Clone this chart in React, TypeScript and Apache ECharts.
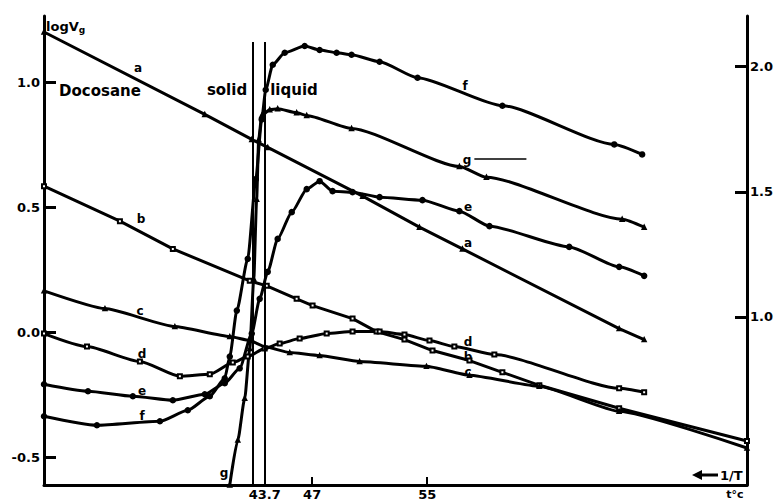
import React, { useEffect, useRef } from "react";
import * as echarts from "echarts";

// x: temperature (°C), y: log Vg
const xTickValues = [43.7, 47, 55];
const xTickLabels = ["43.7", "47", "55"];
const leftTickValues = [-0.5, 0, 0.5, 1.0];
const rightTickValues = [1.0, 1.5, 2.0];
const transitionTemps = [42.85, 43.7];

const curveA = [[28.35, 1.203], [39.53, 0.873], [42.8, 0.773], [43.91, 0.741], [50.51, 0.546], [54.46, 0.422], [57.45, 0.335], [68.35, 0.016], [70.09, -0.028]];
const curveB = [[28.35, 0.586], [33.63, 0.446], [37.31, 0.335], [42.66, 0.207], [43.84, 0.187], [45.92, 0.135], [47.03, 0.108], [49.81, 0.056], [51.48, 0.004], [53.42, -0.028], [55.37, -0.072], [57.94, -0.112], [60.23, -0.159], [62.8, -0.211], [68.35, -0.303], [77.24, -0.434]];
const curveC = [[28.35, 0.167], [32.59, 0.096], [37.45, 0.024], [41.27, -0.016], [42.66, -0.032], [43.7, -0.056], [45.44, -0.08], [47.52, -0.092], [50.3, -0.116], [54.95, -0.135], [57.94, -0.171], [62.8, -0.215], [68.35, -0.315], [77.24, -0.462]];
const curveD = [[28.35, -0.004], [31.34, -0.056], [35.02, -0.116], [37.8, -0.175], [39.88, -0.167], [41.48, -0.12], [42.52, -0.096], [43.7, -0.064], [44.74, -0.044], [46.13, -0.024], [48.01, -0.004], [49.81, 0.004], [51.69, 0.004], [53.42, -0.008], [55.16, -0.032], [56.89, -0.056], [59.67, -0.088], [68.35, -0.223], [70.09, -0.239]];
const curveE = [[28.35, -0.207], [31.41, -0.235], [34.53, -0.255], [37.31, -0.271], [39.53, -0.247], [40.92, -0.203], [41.96, -0.143], [42.8, -0.004], [43.35, 0.135], [43.91, 0.243], [44.6, 0.375], [45.58, 0.482], [46.62, 0.574], [47.52, 0.606], [48.42, 0.566], [49.81, 0.562], [51.69, 0.542], [54.67, 0.53], [57.24, 0.486], [59.33, 0.426], [64.88, 0.343], [68.35, 0.263], [70.09, 0.227]];
const curveF = [[28.35, -0.335], [32.03, -0.371], [36.41, -0.355], [38.35, -0.311], [39.88, -0.255], [40.92, -0.183], [41.27, -0.096], [41.76, 0.088], [42.52, 0.295], [43.08, 0.614], [43.49, 0.853], [43.77, 0.972], [44.26, 1.072], [45.09, 1.12], [46.48, 1.147], [47.52, 1.131], [48.7, 1.12], [49.74, 1.112], [51.69, 1.084], [54.33, 1.02], [60.23, 0.908], [68.01, 0.753], [69.95, 0.713]];
const curveG = [[41.27, -0.61], [41.83, -0.43], [42.31, -0.263], [42.66, -0.064], [42.94, 0.215], [43.14, 0.534], [43.28, 0.773], [43.49, 0.869], [44.05, 0.892], [44.6, 0.896], [45.92, 0.88], [46.62, 0.869], [49.74, 0.817], [57.24, 0.665], [59.12, 0.622], [68.56, 0.454], [70.09, 0.422]];
const gLeader = [[58.28, 0.697], [61.9, 0.697]];

const FONT = "'DejaVu Sans', sans-serif";

export default function App() {
  const ref = useRef<HTMLDivElement>(null);
  useEffect(() => {
    const chart = echarts.init(ref.current!, null, { renderer: "svg" });
    const mk = (name: string, data: number[][], symbol: string, size: number, smooth: number | boolean, extra: any = {}) => ({
      type: "line",
      name,
      data,
      smooth,
      smoothMonotone: "x",
      symbol,
      symbolSize: size,
      showAllSymbol: true,
      lineStyle: { color: "#000", width: 3 },
      itemStyle: { color: "#000", borderColor: "#000", borderWidth: 1.5 },
      z: 3,
      ...extra,
    });
    const txt = (text: string, x: number, y: number, size = 12, align = "center") => ({
      type: "text",
      x,
      y,
      style: {
        text,
        fill: "#000",
        fontFamily: FONT,
        fontWeight: "bold",
        fontSize: size,
        align,
        verticalAlign: "middle",
      },
    });
    const vLines = transitionTemps.map((t) => [
      { coord: [t, -0.61] },
      { coord: [t, 1.163] },
    ]);
    const axisLabelStyle = { color: "#000", fontFamily: FONT, fontWeight: "bold", fontSize: 13 };
    chart.setOption({
      animation: false,
      backgroundColor: "#fff",
      grid: { left: 44, right: 28, top: 16, bottom: 14 },
      xAxis: {
        type: "value",
        min: 28.35,
        max: 77.24,
        axisLine: { onZero: false, lineStyle: { color: "#000", width: 3 } },
        axisTick: { inside: true, length: 8, lineStyle: { color: "#000", width: 2 }, customValues: xTickValues },
        axisLabel: {
          ...axisLabelStyle,
          margin: 3,
          customValues: xTickValues,
          formatter: (v: number) => {
            const i = xTickValues.findIndex((t) => Math.abs(t - v) < 1e-6);
            return i >= 0 ? xTickLabels[i] : "";
          },
        },
        splitLine: { show: false },
      },
      yAxis: [
        {
          type: "value",
          min: -0.61,
          max: 1.267,
          axisLine: { show: true, onZero: false, lineStyle: { color: "#000", width: 3 } },
          axisTick: { show: true, inside: true, length: 12, lineStyle: { color: "#000", width: 3 }, customValues: leftTickValues },
          axisLabel: { ...axisLabelStyle, margin: 4, customValues: leftTickValues, formatter: (v: number) => v.toFixed(1) },
          splitLine: { show: false },
        },
        {
          type: "value",
          position: "right",
          min: 0.327,
          max: 2.203,
          axisLine: { show: true, onZero: false, lineStyle: { color: "#000", width: 3 } },
          axisTick: { show: true, inside: true, length: 12, lineStyle: { color: "#000", width: 3 }, customValues: rightTickValues },
          axisLabel: { ...axisLabelStyle, margin: 3, customValues: rightTickValues, formatter: (v: number) => v.toFixed(1) },
          splitLine: { show: false },
        },
      ],
      series: [
        mk("a", curveA, "triangle", 4, false, {
          markLine: {
            silent: true,
            symbol: "none",
            label: { show: false },
            lineStyle: { color: "#000", width: 2, type: "solid" },
            data: vLines,
          },
        }),
        mk("b", curveB, "emptyRect", 4, false),
        mk("c", curveC, "triangle", 4, 0.15),
        mk("d", curveD, "emptyRect", 4, 0.2),
        mk("e", curveE, "circle", 5, 0.2),
        mk("f", curveF, "circle", 5, 0.2),
        mk("g", curveG, "triangle", 4, 0.2, {
          markLine: {
            silent: true,
            symbol: "none",
            label: { show: false },
            lineStyle: { color: "#000", width: 1.5, type: "solid" },
            data: [[{ coord: gLeader[0] }, { coord: gLeader[1] }]],
          },
        }),
      ],
      graphic: [
        {
          type: "text",
          x: 46,
          y: 26,
          style: {
            text: "{m|logV}{s|g}",
            fill: "#000",
            verticalAlign: "middle",
            rich: {
              m: { fontFamily: FONT, fontWeight: "bold", fontSize: 13, fill: "#000" },
              s: { fontFamily: FONT, fontWeight: "bold", fontSize: 9, fill: "#000", padding: [8, 0, 0, 0] },
            },
          },
        },
        txt("Docosane", 100, 91, 15),
        txt("solid", 227, 90, 15),
        txt("liquid", 294, 90, 15),
        txt("a", 138, 68),
        txt("b", 141, 219),
        txt("c", 140, 311),
        txt("d", 142, 354),
        txt("e", 142, 391),
        txt("f", 142, 416),
        txt("g", 224, 473),
        txt("f", 465, 86),
        txt("g", 467, 160),
        txt("e", 468, 207),
        txt("a", 468, 243),
        txt("d", 468, 342),
        txt("b", 468, 357),
        txt("c", 468, 372),
        txt("t°c", 735, 494, 11),
        {
          type: "polygon",
          shape: { points: [[692, 475], [702, 470], [702, 480]] },
          style: { fill: "#000" },
        },
        {
          type: "line",
          shape: { x1: 700, y1: 475, x2: 718, y2: 475 },
          style: { stroke: "#000", lineWidth: 3 },
        },
        txt("1/T", 720, 475, 13, "left"),
      ],
    });
    return () => chart.dispose();
  }, []);
  return (
    <div
      ref={ref}
      style={{ position: "absolute", left: 0, top: 0, width: 776, height: 501, background: "#fff" }}
    />
  );
}
